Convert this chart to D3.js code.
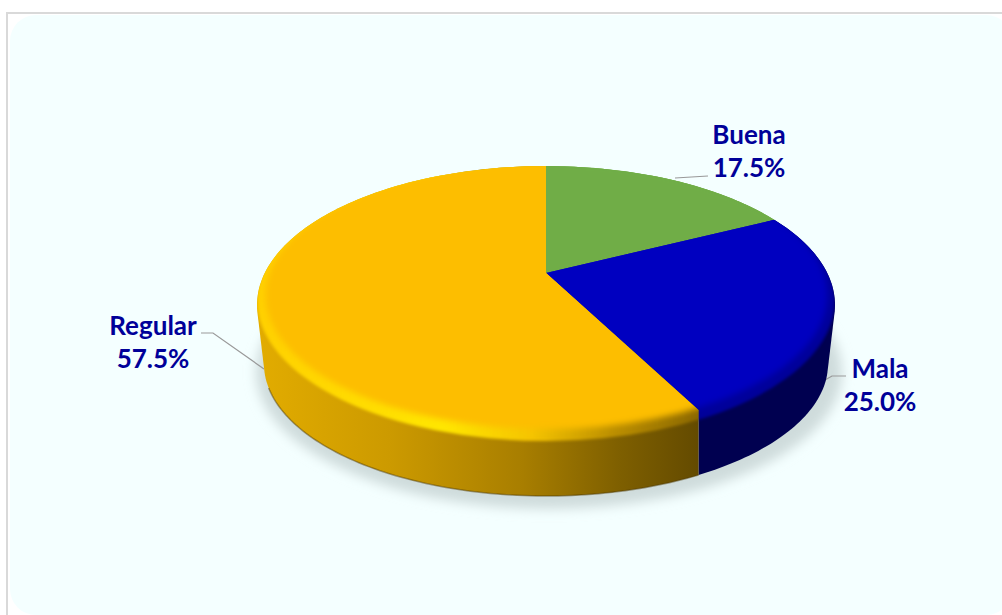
<!DOCTYPE html>
<html>
<head>
<meta charset="utf-8">
<script src="https://cdn.jsdelivr.net/npm/d3@7"></script>
<style>
  html, body { margin: 0; padding: 0; background: #fff; overflow: hidden; }
  svg { display: block; }
  text { font-family: Lato, "Open Sans", sans-serif; font-weight: 700; font-size: 26px; fill: #000099; }
</style>
</head>
<body>
<svg id="chart" width="1002" height="615"></svg>
<script>
// Survey shares for a perspective 3D pie
const categories = ["Buena", "Mala", "Regular"];
const shares = [17.5, 25.0, 57.5];

const faceColors = ["#70AD47", "#0000C0", "#FDBE00"];
const bevelColors = ["#70AD47", "#00009A", "url(#yellowBevel)"];
const wallColors = ["#70AD47", "#000050", "url(#yellowWall)"];

const svg = d3.select("#chart");
const defs = svg.append("defs");

// Ellipses describing the disc: outer rim, sector edge, bevel, flat face and underside
const apex = { x: 546, y: 273 };
const rim = { cx: 546, cy: 305, rx: 289, ry: 139 };
const edge = { cx: 546, cy: 300, rx: 289, ry: 135 };
const bevel = { cx: 546, cy: 300, rx: 289, ry: 141 };
const face = { cx: 546.5, cy: 295, rx: 281, ry: 134 };
const under = { cx: 546, cy: 364, rx: 282, ry: 132 };

// Perspective shift of the pie centre inside the ellipse
const tilt = -0.2;

// Angle on the flat disc (clockwise from 12 o'clock) to a point on an ellipse
function onEllipse(e, angle, scale = 1) {
  const u = Math.sin(angle), v = -Math.cos(angle);
  const d = 1 + tilt * v;
  const pu = u * Math.sqrt(1 - tilt * tilt) / d;
  const pv = (v + tilt) / d;
  return [e.cx + scale * e.rx * pu, e.cy + scale * e.ry * pv];
}

const pie = d3.pie().sort(null).startAngle(0).endAngle(2 * Math.PI);
const arcs = pie(shares);
const line = d3.line();

function sweep(a0, a1) {
  const n = Math.max(2, Math.ceil((a1 - a0) / 0.02));
  return d3.range(n + 1).map(i => a0 + (a1 - a0) * i / n);
}

// A boundary on the near side stops at the face and then falls straight down the wall;
// one on the far side simply runs outward from the apex
function boundary(angle) {
  const p = onEllipse(edge, angle);
  if (p[1] > apex.y + 60) {
    const q = [apex.x + (p[0] - apex.x) * 0.975, apex.y + (p[1] - apex.y) * 0.975];
    return { near: true, inner: q, outer: [q[0], q[1] + 300] };
  }
  return { near: false, inner: p, outer: [apex.x + (p[0] - apex.x) * 2, apex.y + (p[1] - apex.y) * 2] };
}

function sectorClip(d) {
  const b0 = boundary(d.startAngle);
  const b1 = boundary(d.endAngle);
  const outer = sweep(d.startAngle, d.endAngle)
    .map(a => onEllipse(rim, a, 2))
    .filter(p => (!b0.near || p[0] < b0.inner[0]) && (!b1.near || p[0] > b1.inner[0]));
  return line([[apex.x, apex.y], b0.inner, b0.outer, ...outer, b1.outer, b1.inner]) + "Z";
}

// Body of a slice: hull of its rim and underside arcs, a touch wider than the slice
// so the sector clip decides where it ends; the top surface covers the inner part
function wallPath(d) {
  const steps = sweep(d.startAngle - 0.06, d.endAngle + 0.06);
  const pts = [...steps.map(a => onEllipse(rim, a)), ...steps.map(a => onEllipse(under, a))];
  return line(d3.polygonHull(pts)) + "Z";
}

// Gradients and soft edges
function linear(id, stops) {
  const g = defs.append("linearGradient").attr("id", id)
    .attr("gradientUnits", "userSpaceOnUse")
    .attr("x1", 257).attr("x2", 700).attr("y1", 0).attr("y2", 0);
  stops.forEach(([o, c]) => g.append("stop").attr("offset", o).attr("stop-color", c));
}
linear("yellowWall", [[0, "#E2AC00"], [0.3, "#CC9A00"], [0.6, "#A87E00"], [0.82, "#7E5F00"], [1, "#634A00"]]);
linear("yellowBevel", [[0, "#FFD000"], [0.25, "#FFDC00"], [0.42, "#FFE600"], [0.62, "#F5C400"], [0.8, "#BD9000"], [1, "#8A6700"]]);

function blur(id, sd) {
  defs.append("filter").attr("id", id)
    .attr("x", "-10%").attr("y", "-10%").attr("width", "120%").attr("height", "120%")
    .append("feGaussianBlur").attr("stdDeviation", sd);
}
blur("soft", 3);
blur("softer", 1.4);
blur("shadowBlur", 6);

arcs.forEach((d, i) => {
  defs.append("clipPath").attr("id", "sector" + i).append("path").attr("d", sectorClip(d));
});

// Silhouette of the top surface, so blurred layers stay inside it
defs.append("clipPath").attr("id", "discTop").append("ellipse")
  .attr("cx", rim.cx).attr("cy", rim.cy).attr("rx", rim.rx).attr("ry", rim.ry);

// Panel behind the chart
svg.append("rect").attr("x", 7).attr("y", 13).attr("width", 1100).attr("height", 700)
  .attr("fill", "#fff").attr("stroke", "#D9D9D9").attr("stroke-width", 2);
svg.append("rect").attr("x", 10).attr("y", 15).attr("width", 1002).attr("height", 600).attr("rx", 26)
  .attr("fill", "#F4FFFF");

// Ground shadow
svg.append("ellipse").attr("cx", 549).attr("cy", 372).attr("rx", 293).attr("ry", 137)
  .attr("fill", "#CFDCDC").attr("filter", "url(#shadowBlur)");

// Leader lines
const leaders = [
  [[675, 178], [708, 176]],
  [[825, 380], [832, 376], [846, 376]],
  [[264, 369], [213, 333], [201, 333]]
];
svg.append("g").selectAll("path").data(leaders).join("path")
  .attr("d", d => line(d)).attr("fill", "none").attr("stroke", "#999999").attr("stroke-width", 1.2);

// Side walls
svg.append("g").selectAll("g").data(arcs).join("g")
  .attr("clip-path", (d, i) => `url(#sector${i})`)
  .append("path")
  .attr("d", d => wallPath(d))
  .attr("fill", (d, i) => wallColors[i]);

// Dark lip along the underside
const lip = sweep(Math.PI * 0.85, Math.PI * 1.38).map(a => onEllipse(under, a));
svg.append("path").attr("d", line(lip)).attr("fill", "none")
  .attr("stroke", "#4A3600").attr("stroke-opacity", 0.45).attr("stroke-width", 1.5);

// Top of the disc: one clipped group per slice, with the bevel under the face
const disc = svg.append("g").attr("clip-path", "url(#discTop)");
const slices = disc.selectAll("g").data(arcs).join("g")
  .attr("clip-path", (d, i) => `url(#sector${i})`);
slices.append("ellipse")
  .attr("cx", bevel.cx).attr("cy", bevel.cy).attr("rx", bevel.rx).attr("ry", bevel.ry)
  .attr("fill", (d, i) => bevelColors[i])
  .attr("filter", "url(#softer)");
slices.append("ellipse")
  .attr("cx", face.cx).attr("cy", face.cy).attr("rx", face.rx).attr("ry", face.ry)
  .attr("fill", (d, i) => faceColors[i])
  .attr("filter", "url(#soft)");

// Labels
const labelSpots = [[749, 144], [880, 378], [153, 335]];
const fmt = d3.format(".1f");
const labels = svg.append("g").selectAll("g").data(categories).join("g")
  .attr("transform", (d, i) => `translate(${labelSpots[i][0]},${labelSpots[i][1]})`);
labels.append("text").attr("text-anchor", "middle").text(d => d);
labels.append("text").attr("text-anchor", "middle").attr("y", 33).text((d, i) => fmt(shares[i]) + "%");
</script>
</body>
</html>
